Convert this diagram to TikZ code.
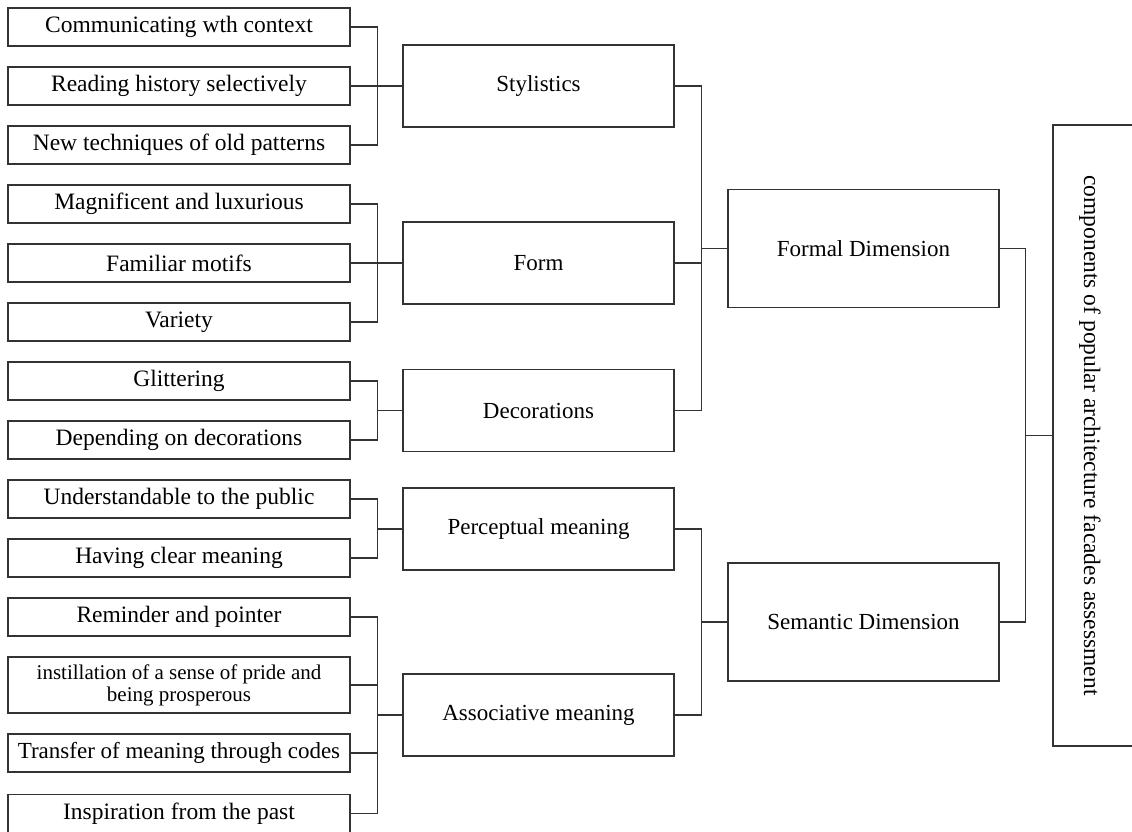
\documentclass[tikz,border=0pt]{standalone}
\usepackage{fontspec}
\setmainfont{Liberation Serif}
\usepackage{tikz}
\usetikzlibrary{positioning}

\begin{document}
\begin{tikzpicture}[x=1pt,y=-1pt,
  line width=1.2pt,
  leaf/.style={draw=black!80,rectangle,inner sep=0pt,minimum width=342pt,minimum height=38pt,
    font=\fontsize{23.5}{26}\selectfont},
  facet/.style={draw=black!80,rectangle,inner sep=0pt,minimum width=271pt,minimum height=82pt,
    font=\fontsize{23}{26}\selectfont},
  dimen/.style={draw=black!80,rectangle,inner sep=0pt,minimum width=271pt,minimum height=118pt,
    font=\fontsize{23}{26}\selectfont},
  link/.style={draw=black!80,line width=1.2pt}]
\useasboundingbox (0,0) rectangle (1132,831);
\node[leaf] (comm) at (179,27) {Communicating  wth context};
\node[leaf] (read) at (179,86) {Reading history selectively};
\node[leaf] (newtech) at (179,145) {New techniques of old patterns};
\node[leaf] (magni) at (179,204) {Magnificent  and luxurious};
\node[leaf] (motif) at (179,263) {Familiar  motifs};
\node[leaf] (variety) at (179,322) {Variety};
\node[leaf] (glitter) at (179,381) {Glittering};
\node[leaf] (depend) at (179,440) {Depending  on decorations};
\node[leaf] (public) at (179,499) {Understandable to the public};
\node[leaf] (clear) at (179,558) {Having  clear meaning};
\node[leaf] (remind) at (179,617) {Reminder  and pointer};
\node[leaf,minimum height=56pt,align=center,font=\fontsize{21}{22}\selectfont] (pride) at (179,685)
  {instillation of a sense of pride and\\being prosperous};
\node[leaf,font=\fontsize{23}{26}\selectfont] (codes) at (179,753) {Transfer of meaning  through codes};
\node[leaf] (past) at (179,813.5) {Inspiration  from the past};

\node[facet] (styl) at (538.5,86) {Stylistics};
\node[facet] (form) at (538.5,263) {Form};
\node[facet] (deco) at (538.5,410.5) {Decorations};
\node[facet] (percep) at (538.5,529) {Perceptual meaning};
\node[facet] (assoc) at (538.5,715) {Associative meaning};

\node[dimen] (formal) at (863.5,248.5) {Formal Dimension};
\node[dimen] (sem) at (863.5,622) {Semantic Dimension};

\node[draw=black!80,rectangle,rotate=-90,inner sep=0pt,minimum width=621pt,minimum height=87pt,
  text height=30pt,text depth=5pt,font=\fontsize{23.5}{26}\selectfont] (root) at (1096.5,435.5)
  {components of popular architecture  facades assessment};

\draw[link] (comm.east) -- ++(27,0) |- (styl.west);
\draw[link] (newtech.east) -- ++(27,0) |- (styl.west);
\draw[link] (read.east) -- (styl.west);
\draw[link] (magni.east) -- ++(27,0) |- (form.west);
\draw[link] (variety.east) -- ++(27,0) |- (form.west);
\draw[link] (motif.east) -- (form.west);
\draw[link] (glitter.east) -- ++(27,0) |- (deco.west);
\draw[link] (depend.east) -- ++(27,0) |- (deco.west);
\draw[link] (public.east) -- ++(27,0) |- (percep.west);
\draw[link] (clear.east) -- ++(27,0) |- (percep.west);
\draw[link] (remind.east) -- ++(27,0) |- (assoc.west);
\draw[link] (past.east) -- ++(27,0) |- (assoc.west);
\draw[link] (pride.east) -- ++(27,0);
\draw[link] (codes.east) -- ++(27,0);

\draw[link] (styl.east) -- ++(27,0) |- (formal.west);
\draw[link] (deco.east) -- ++(27,0) |- (formal.west);
\draw[link] (form.east) -- ++(27,0);
\draw[link] (percep.east) -- ++(27,0) |- (sem.west);
\draw[link] (assoc.east) -- ++(27,0) |- (sem.west);

\draw[link] (formal.east) -- ++(26,0) |- (root.south);
\draw[link] (sem.east) -- ++(26,0) |- (root.south);
\end{tikzpicture}
\end{document}
